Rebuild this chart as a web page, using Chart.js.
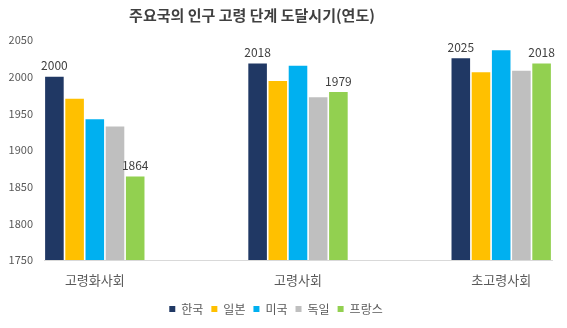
<!DOCTYPE html>
<html>
<head>
<meta charset="utf-8">
<script src="https://cdn.jsdelivr.net/npm/chart.js@4.4.1/dist/chart.umd.min.js"></script>
<style>
  html, body { margin: 0; padding: 0; background: #fff; }
  #wrap { width: 567px; height: 328px; }
</style>
</head>
<body>
<div id="wrap"><canvas id="chart"></canvas></div>
<script>
// 데이터
const titleText = "주요국의 인구 고령 단계 도달시기(연도)";
const categories = ["고령화사회", "고령사회", "초고령사회"];
const countries = ["한국", "일본", "미국", "독일", "프랑스"];
const korea = [2000, 2018, 2025];
const japan = [1970, 1994, 2006];
const usa = [1942, 2015, 2036];
const germany = [1932, 1972, 2008];
const france = [1864, 1979, 2018];
const yTicks = [1750, 1800, 1850, 1900, 1950, 2000, 2050];

const seriesValues = [korea, japan, usa, germany, france];
const colors = ["#203864", "#FFC000", "#00B0F0", "#BFBFBF", "#92D050"];
const labelledSeries = [0, 4]; // 값 표시: 한국, 프랑스

const fontFamily = "'Noto Sans CJK KR', 'Noto Sans', sans-serif";
const bottomPad = 3;
const belowPlot = 68; // 그래프 영역 아래 높이

// 제목 그리기
const titlePlugin = {
    id: "titlePlugin",
    afterDraw(chart) {
        const ctx = chart.ctx;
        ctx.save();
        ctx.font = "bold 15px " + fontFamily;
        ctx.fillStyle = "#404040";
        ctx.textAlign = "center";
        ctx.textBaseline = "middle";
        ctx.fillText(titleText, 252, 15);
        ctx.restore();
    }
};

// 막대 위 값 표시
const valueLabels = {
    id: "valueLabels",
    afterDatasetsDraw(chart) {
        const ctx = chart.ctx;
        ctx.save();
        ctx.font = "12px " + fontFamily;
        ctx.fillStyle = "#404040";
        ctx.textAlign = "center";
        ctx.textBaseline = "bottom";
        labelledSeries.forEach(function (di) {
            const meta = chart.getDatasetMeta(di);
            meta.data.forEach(function (bar, i) {
                ctx.fillText(String(seriesValues[di][i]), bar.x, bar.y - 5);
            });
        });
        ctx.restore();
    }
};

const datasets = countries.map(function (name, di) {
    return {
        label: name,
        data: seriesValues[di].map(function (v, i) { return { x: i, y: v }; }),
        backgroundColor: colors[di],
        borderWidth: 0,
        barPercentage: 0.92,
        categoryPercentage: 0.497
    };
});

const ctx = document.getElementById("chart").getContext("2d");
new Chart(ctx, {
    type: "bar",
    data: { datasets: datasets },
    options: {
        responsive: true,
        maintainAspectRatio: false,
        animation: false,
        layout: { padding: { top: 40, right: 15, left: 0, bottom: bottomPad } },
        plugins: {
            title: { display: false },
            tooltip: { enabled: false },
            legend: {
                display: true,
                position: "bottom",
                labels: {
                    color: "#595959",
                    font: { family: fontFamily, size: 12 },
                    boxWidth: 6,
                    boxHeight: 6,
                    padding: 8
                }
            }
        },
        scales: {
            x: {
                type: "linear",
                min: -0.25,
                max: 2.25,
                offset: false,
                afterFit: function (scale) {
                    const lg = scale.chart.legend;
                    scale.height = belowPlot - bottomPad - (lg ? lg.height : 0);
                },
                afterBuildTicks: function (scale) {
                    scale.ticks = categories.map(function (c, i) { return { value: i }; });
                },
                ticks: {
                    color: "#595959",
                    font: { family: fontFamily, size: 13 },
                    padding: 12,
                    autoSkip: false,
                    maxRotation: 0,
                    callback: function (v) { return categories[v]; }
                },
                grid: { display: false, drawTicks: false, offset: false },
                border: { display: true, color: "#D9D9D9", width: 1 }
            },
            y: {
                min: yTicks[0],
                max: yTicks[yTicks.length - 1],
                afterFit: function (scale) { scale.width = 44; },
                afterBuildTicks: function (scale) {
                    scale.ticks = yTicks.map(function (v) { return { value: v }; });
                },
                ticks: {
                    color: "#595959",
                    font: { family: fontFamily, size: 11 },
                    padding: 11,
                    callback: function (v) { return String(v); }
                },
                grid: { display: false, drawTicks: false },
                border: { display: false }
            }
        }
    },
    plugins: [titlePlugin, valueLabels]
});
</script>
</body>
</html>
